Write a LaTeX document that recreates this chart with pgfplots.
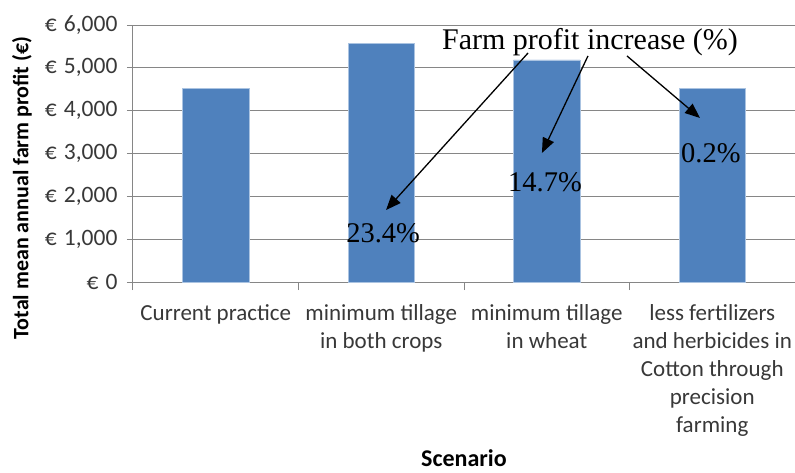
\documentclass[border=0pt]{standalone}
\usepackage{pgfplots}
\pgfplotsset{compat=1.18}
\usepackage{fontspec}
\setmainfont{Carlito}
\newfontfamily\annot{Liberation Serif}
\usetikzlibrary{arrows.meta}
\definecolor{barblue}{RGB}{79,129,189}
\definecolor{baredge}{RGB}{170,195,225}
\definecolor{gridgray}{RGB}{134,134,134}

\begin{document}
\begin{tikzpicture}
\useasboundingbox (-133pt,-190pt) rectangle (662pt,282pt);
\begin{axis}[
    at={(0,0)}, anchor=south west,
    scale only axis,
    width=662pt,
    height=257pt,
    ybar,
    bar width=0.4,
    xmin=-0.5, xmax=3.5,
    ymin=0, ymax=6000,
    ytick={0,1000,...,6000},
    axis lines*=left,
    axis line style={gridgray, line width=1pt},
    ymajorgrids=true,
    grid style={gridgray, line width=1pt},
    xtick={0,1,2,3},
    xticklabels={
        Current practice,
        {minimum tillage\\in both crops},
        {minimum tillage\\in wheat},
        {less fertilizers\\and herbicides in\\Cotton through\\precision\\farming}},
    minor xtick={-0.5,0.5,1.5,2.5,3.5},
    x tick style={draw=none},
    minor x tick style={draw=gridgray, line width=1pt},
    minor tick length=8pt,
    y tick style={draw=gridgray, line width=1pt},
    major tick length=6pt,
    tick align=outside,
    xticklabel style={font=\fontsize{23}{28}\selectfont, text=black!78, align=center, anchor=north, yshift=-13pt},
    yticklabel style={font=\fontsize{23.5}{28}\selectfont, text=black!78, anchor=east, xshift=-6pt},
    yticklabel={€\hspace{0.3em}\pgfmathprintnumber{\tick}},
    /pgf/number format/.cd, 1000 sep={,}, assume math mode=true, /pgfplots/.cd,
    xlabel={Scenario},
    xlabel style={font=\bfseries\fontsize{24}{26}\selectfont, inner sep=0pt, at={(axis description cs:0.5,-0.7160)}, anchor=base},
    ylabel={Total mean annual farm profit (€)},
    ylabel style={font=\bfseries\fontsize{22}{24}\selectfont, at={(axis description cs:-0.1677,0.366)}, anchor=center},
]
\addplot[fill=barblue, draw=baredge, line width=0.6pt] coordinates {
    (0, 4520)
    (1, 5578)
    (2, 5184)
    (3, 4529)
};
\node[font=\annot\fontsize{30}{32}\selectfont, fill=white, inner sep=1pt] at (axis cs:2.261,5600) {Farm profit increase (\%)};
\draw[line width=1.3pt, -{Triangle[length=15pt, width=12pt]}] (axis cs:1.887,5347) -- (axis cs:1.029,1681);
\draw[line width=1.3pt, -{Triangle[length=15pt, width=12pt]}] (axis cs:2.249,5277) -- (axis cs:1.971,3012);
\draw[line width=1.3pt, -{Triangle[length=15pt, width=12pt]}] (axis cs:2.485,5277) -- (axis cs:2.926,3829);
\node[font=\annot\fontsize{28.5}{30}\selectfont] at (axis cs:1.011,1144) {23.4\%};
\node[font=\annot\fontsize{28.5}{30}\selectfont] at (axis cs:1.989,2335) {14.7\%};
\node[font=\annot\fontsize{28.5}{30}\selectfont] at (axis cs:2.992,3012) {0.2\%};
\end{axis}
\end{tikzpicture}
\end{document}
